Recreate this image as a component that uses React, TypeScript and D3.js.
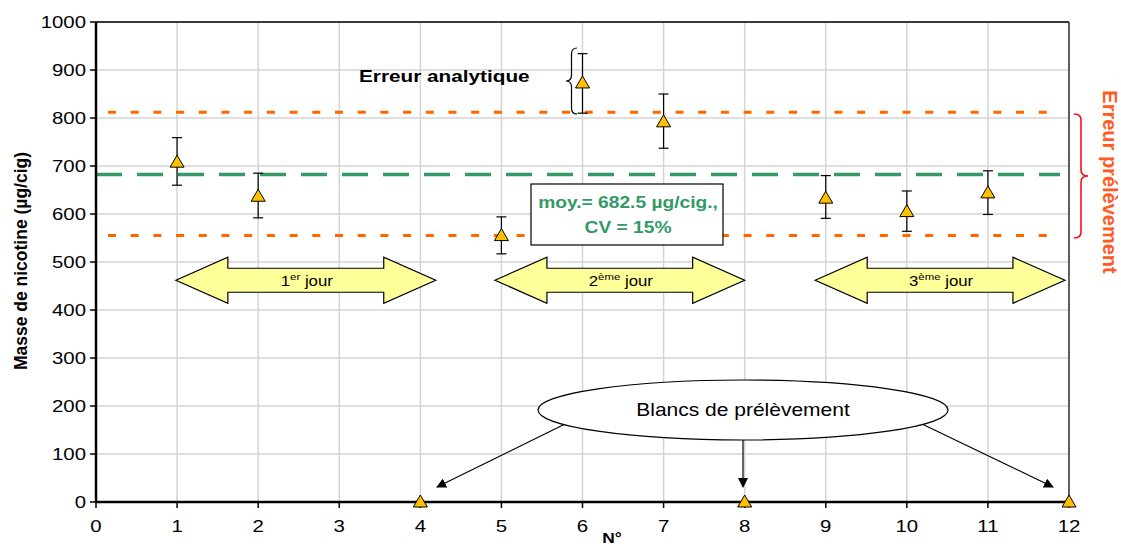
import React from "react";
import * as d3 from "d3";

const sampleNo = [1, 2, 4, 5, 6, 7, 8, 9, 10, 11, 12];
const nicotine = [708, 637, 0, 555, 873, 792, 0, 633, 605, 644, 0];
const errLow = [660, 592, null, 517, 810, 737, null, 591, 564, 599, null];
const errHigh = [759, 685, null, 594, 934, 850, null, 680, 648, 690, null];
const xTicks = d3.range(0, 13);
const yTicks = d3.range(0, 1001, 100);
const meanValue = 682.5;
const upperLimit = 812;
const lowerLimit = 555;

const W = 1121;
const H = 547;
const FONT = "'Liberation Sans', Arial, sans-serif";
const SX = 1.2;

function T(props: any) {
  const { x, y, children, rotate, rs, ...rest } = props;
  const tr = rotate
    ? `translate(${x},${y}) rotate(${rotate}) scale(1,${rs ?? 1.1})`
    : `translate(${x},${y}) scale(${SX},1)`;
  return (
    <text transform={tr} {...rest}>
      {children}
    </text>
  );
}

export default function App() {
  const x = d3.scaleLinear().domain([0, 12]).range([96, 1069]);
  const y = d3.scaleLinear().domain([0, 1000]).range([502, 22]);
  const [x0, x1] = x.range();
  const [yb, yt] = y.range();

  const dblArrow = (a: number, b: number, cy: number) => {
    const h = 52, bh = 12, hh = 23;
    const p = d3.path();
    p.moveTo(a, cy);
    p.lineTo(a + h, cy - hh);
    p.lineTo(a + h, cy - bh);
    p.lineTo(b - h, cy - bh);
    p.lineTo(b - h, cy - hh);
    p.lineTo(b, cy);
    p.lineTo(b - h, cy + hh);
    p.lineTo(b - h, cy + bh);
    p.lineTo(a + h, cy + bh);
    p.lineTo(a + h, cy + hh);
    p.closePath();
    return p.toString();
  };

  const tri = (cx: number, cy: number) =>
    `M${cx},${cy - 7}L${cx + 7},${cy + 5}L${cx - 7},${cy + 5}Z`;

  const arrowY = y(462);
  const days = [
    { a: 0.985, b: 4.19, num: "1", sup: "er" },
    { a: 4.92, b: 8.0, num: "2", sup: "ème" },
    { a: 8.87, b: 11.95, num: "3", sup: "ème" },
  ];

  const brace = (xe: number, xp: number, ya: number, yb2: number) => {
    const ym = (ya + yb2) / 2;
    const xm = (xe + xp) / 2;
    return `M${xe},${ya} Q${xm},${ya} ${xm},${ya + 6} L${xm},${ym - 6} Q${xm},${ym} ${xp},${ym} Q${xm},${ym} ${xm},${ym + 6} L${xm},${yb2 - 6} Q${xm},${yb2} ${xe},${yb2}`;
  };

  const ell = { cx: 743, cy: 410, rx: 205, ry: 30 };

  return (
    <svg
      width={W}
      height={H}
      style={{ position: "absolute", left: 0, top: 0, background: "#fff" }}
      fontFamily={FONT}
    >
      <defs>
        <marker id="ah" viewBox="0 0 10 10" refX="9" refY="5" markerWidth="10" markerHeight="10" markerUnits="userSpaceOnUse" orient="auto">
          <path d="M0,0L10,5L0,10Z" fill="#000" />
        </marker>
      </defs>
      {/* grid */}
      {yTicks.map((t) => (
        <line key={"gy" + t} x1={x0} x2={x1} y1={y(t)} y2={y(t)} stroke="#d4d4d4" strokeWidth={1.5} />
      ))}
      {xTicks.map((t) => (
        <line key={"gx" + t} x1={x(t)} x2={x(t)} y1={yt} y2={yb} stroke="#d4d4d4" strokeWidth={1.5} />
      ))}
      {/* frame */}
      <line x1={x0} x2={x1} y1={yt} y2={yt} stroke="#000" strokeWidth={1.5} />
      <line x1={x1} x2={x1} y1={yt} y2={yb} stroke="#333" strokeWidth={1.5} />

      {/* reference lines */}
      <line x1={x0} x2={1060} y1={y(upperLimit)} y2={y(upperLimit)} stroke="#ff6600" strokeWidth={3} strokeDasharray="8 14.7" strokeDashoffset={-12} />
      <line x1={x0} x2={1060} y1={y(lowerLimit)} y2={y(lowerLimit)} stroke="#ff6600" strokeWidth={3} strokeDasharray="8 14.7" strokeDashoffset={-12} />
      <line x1={x0} x2={1060} y1={y(meanValue)} y2={y(meanValue)} stroke="#339966" strokeWidth={3.5} strokeDasharray="26 15" />

      {/* axes */}
      <line x1={x0} x2={x0} y1={yt} y2={yb} stroke="#000" strokeWidth={2.5} />
      <line x1={x0} x2={x1} y1={yb} y2={yb} stroke="#000" strokeWidth={2.5} />
      {yTicks.map((t) => (
        <g key={"ty" + t}>
          <line x1={x0 - 6} x2={x0} y1={y(t)} y2={y(t)} stroke="#000" strokeWidth={1.5} />
          <T x={x0 - 10} y={y(t) + 6} textAnchor="end" fontSize={17} fill="#000">{t}</T>
        </g>
      ))}
      {xTicks.map((t) => (
        <g key={"tx" + t}>
          <line x1={x(t)} x2={x(t)} y1={yb} y2={yb + 6} stroke="#000" strokeWidth={1.5} />
          <T x={x(t)} y={yb + 30} textAnchor="middle" fontSize={17} fill="#000">{t}</T>
        </g>
      ))}
      <T x={612} y={543} textAnchor="middle" fontSize={14.5} fontWeight="bold">N°</T>
      <T x={27} y={261} rotate={-90} rs={1.05} textAnchor="middle" fontSize={17.5} fontWeight="bold">Masse de nicotine (µg/cig)</T>

      {/* day arrows */}
      {days.map((d, i) => {
        const a = x(d.a), b = x(d.b);
        return (
          <g key={"d" + i}>
            <path d={dblArrow(a, b, arrowY)} fill="#ffff99" stroke="#000" strokeWidth={1.2} />
            <T x={(a + b) / 2 + 1} y={arrowY + 6} textAnchor="middle" fontSize={14}>
              {d.num}
              <tspan fontSize={9.5} dy={-6}>{d.sup}</tspan>
              <tspan dy={6}> jour</tspan>
            </T>
          </g>
        );
      })}

      {/* mean box */}
      <rect x={531} y={184} width={192} height={61} fill="#fff" stroke="#000" strokeWidth={1.2} />
      <T x={628} y={208} textAnchor="middle" fontSize={16} fontWeight="bold" fill="#339966">moy.= 682.5 µg/cig.,</T>
      <T x={628} y={233} textAnchor="middle" fontSize={16} fontWeight="bold" fill="#339966">CV = 15%</T>

      {/* analytical error */}
      <T x={359} y={82} fontSize={17.3} fontWeight="bold">Erreur analytique</T>
      <path d={brace(577, 566, 48, 114)} fill="none" stroke="#000" strokeWidth={1.2} />

      {/* sampling error */}
      <path d={brace(1074, 1088, 114, 238)} fill="none" stroke="#ff0000" strokeWidth={1.5} />
      <T x={1103} y={182} rotate={90} rs={1} textAnchor="middle" fontSize={20} fontWeight="bold" fill="#ff5a1f">Erreur prélèvement</T>

      {/* blanks */}
      <line x1={565} y1={424} x2={437} y2={487} stroke="#000" strokeWidth={1.2} markerEnd="url(#ah)" />
      <line x1={ell.cx} y1={ell.cy + ell.ry} x2={ell.cx} y2={487} stroke="#000" strokeWidth={1.2} markerEnd="url(#ah)" />
      <line x1={922} y1={424} x2={1053} y2={487} stroke="#000" strokeWidth={1.2} markerEnd="url(#ah)" />
      <ellipse cx={ell.cx} cy={ell.cy} rx={ell.rx} ry={ell.ry} fill="#fff" stroke="#000" strokeWidth={1.2} />
      <T x={ell.cx} y={ell.cy + 6} textAnchor="middle" fontSize={17.5}>Blancs de prélèvement</T>

      {/* error bars */}
      {sampleNo.map((n, i) => {
        const lo = errLow[i], hi = errHigh[i];
        if (lo == null || hi == null) return null;
        const cx = x(n);
        return (
          <g key={"e" + n} stroke="#000" strokeWidth={1.2}>
            <line x1={cx} x2={cx} y1={y(lo)} y2={y(hi)} />
            <line x1={cx - 5} x2={cx + 5} y1={y(lo)} y2={y(lo)} />
            <line x1={cx - 5} x2={cx + 5} y1={y(hi)} y2={y(hi)} />
          </g>
        );
      })}
      {/* markers */}
      {sampleNo.map((n, i) => (
        <path key={"m" + n} d={tri(x(n), y(nicotine[i]))} fill="#ffc000" stroke="#000" strokeWidth={1} />
      ))}
    </svg>
  );
}
